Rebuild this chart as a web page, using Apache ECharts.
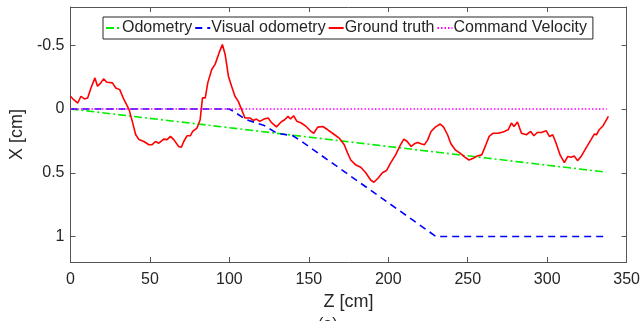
<!DOCTYPE html>
<html>
<head>
<meta charset="utf-8">
<script src="https://cdn.jsdelivr.net/npm/echarts@6/dist/echarts.min.js"></script>
<style>
  html, body { margin: 0; padding: 0; background: #fff; }
  #main { width: 643px; height: 321px; }
</style>
</head>
<body>
<div id="main"></div>
<script>
// odometry (straight drift)
var odoZ = [0, 337];
var odoX = [0, 0.495];

// visual odometry
var visZ = [0, 100, 104, 110, 122, 130, 140, 145, 230, 337];
var visX = [0, 0, 0.03, 0.08, 0.13, 0.19, 0.21, 0.25, 1.0, 1.0];

// command velocity
var cmdZ = [0, 337.5];
var cmdX = [0, 0];

// ground truth
var gtZ = [0, 2, 4.6, 6.6, 8.7, 10.8, 12.9, 15.4, 17, 19.1, 20.8, 22.9, 26.4, 28.5, 31, 33.7, 36.9, 38.9, 41, 43.1,
    46.2, 49.4, 51.4, 53.5, 55.6, 58.7, 60.8, 62.9, 65, 66, 68.1, 69.8, 71.3, 73.3, 75.4, 76.9, 79.6, 81.6, 83.1, 84.8,
    86.4, 88.9, 91, 93.5, 95.6, 97.3, 99.4, 101.4, 103.5, 105.6, 107.7, 109.8, 112.9, 115, 117, 119.1, 121.9, 124.4, 126.4, 129.6,
    132.7, 134.8, 136.9, 138.5, 140.4, 142.5, 145.2, 148.3, 151.4, 153.1, 155.6, 158.8, 161.9, 166, 169.1, 172.3, 174.4, 176.4, 179.6, 182.7,
    185.8, 188.9, 191, 193.5, 196.3, 198.9, 201.4, 204.6, 207.3, 209.8, 211.9, 214.4, 216.4, 218.5, 220.6, 222.7, 224.8, 226.9, 229.6, 232.7,
    234.8, 237.3, 239.4, 242.1, 245.2, 247.7, 250.8, 253.5, 256, 258.8, 261.4, 263.5, 266, 269.1, 272.3, 275.4, 277.5, 279.1, 281.3, 283.8,
    286.9, 289.6, 291.6, 293.8, 296.3, 299.4, 301.4, 303.5, 305.6, 308.1, 310.8, 312.9, 315, 317, 319.1, 321.3, 324.4, 327.5, 329.6, 331,
    332.7, 335.2, 338.5];
var gtX = [-0.1, -0.073, -0.047, -0.1, -0.079, -0.087, -0.165, -0.244, -0.178, -0.205, -0.236, -0.21, -0.205, -0.165, -0.152, -0.073, 0.005, 0.097, 0.2, 0.24,
    0.255, 0.28, 0.28, 0.255, 0.268, 0.236, 0.24, 0.215, 0.24, 0.255, 0.294, 0.3, 0.255, 0.21, 0.21, 0.176, 0.15, 0.084, -0.087, -0.087,
    -0.205, -0.31, -0.35, -0.44, -0.506, -0.43, -0.257, -0.178, -0.1, -0.06, 0.005, 0.07, 0.07, 0.09, 0.079, 0.097, 0.079, 0.07, 0.105, 0.14,
    0.1, 0.084, 0.058, 0.079, 0.053, 0.097, 0.11, 0.137, 0.176, 0.19, 0.142, 0.137, 0.163, 0.2, 0.228, 0.28, 0.346, 0.4, 0.44, 0.457,
    0.5, 0.557, 0.575, 0.543, 0.5, 0.483, 0.425, 0.36, 0.29, 0.236, 0.255, 0.294, 0.273, 0.263, 0.273, 0.281, 0.242, 0.176, 0.142, 0.118,
    0.142, 0.202, 0.273, 0.32, 0.346, 0.373, 0.4, 0.386, 0.368, 0.36, 0.281, 0.215, 0.19, 0.19, 0.18, 0.163, 0.11, 0.137, 0.102, 0.19,
    0.202, 0.176, 0.21, 0.184, 0.184, 0.171, 0.215, 0.202, 0.268, 0.36, 0.42, 0.373, 0.378, 0.368, 0.405, 0.373, 0.307, 0.242, 0.197, 0.202,
    0.163, 0.131, 0.058];

var yTicks = [-0.5, 0, 0.5, 1];

function fnPairs(zs, xs) {
    var out = [];
    for (var i = 0; i < zs.length; i++) {
        out.push([zs[i], xs[i]]);
    }
    return out;
}

var axisColor = '#555555';
var textColor = '#262626';
var font = 'Liberation Sans';

var myChart = echarts.init(document.getElementById('main'));

var option = {
    animation: false,
    grid: { left: 67.7, right: 15, top: 7, bottom: 59 },
    legend: {
        left: 103,
        top: 17,
        padding: [3, 6, 3, 2],
        itemWidth: 15,
        itemHeight: 10,
        itemGap: 2,
        borderColor: '#262626',
        borderWidth: 1,
        backgroundColor: '#fff',
        itemStyle: { opacity: 0 },
        textStyle: { fontFamily: font, fontSize: 16, color: textColor, padding: [0, 0, 0, -4] },
        data: ['Odometry', 'Visual odometry', 'Ground truth', 'Command Velocity']
    },
    xAxis: [
        {
            type: 'value', min: 0, max: 350, interval: 50,
            name: 'Z [cm]', nameLocation: 'middle', nameGap: 31,
            nameTextStyle: { fontFamily: font, fontSize: 18, color: textColor },
            axisLine: { onZero: false, lineStyle: { color: axisColor } },
            axisTick: { inside: true, length: 5, lineStyle: { color: axisColor } },
            axisLabel: { fontFamily: font, fontSize: 16, color: textColor, margin: 10 },
            splitLine: { show: false }
        },
        {
            type: 'value', min: 0, max: 350, interval: 50, position: 'top',
            axisLine: { show: true, onZero: false, lineStyle: { color: axisColor } },
            axisTick: { inside: true, length: 5, lineStyle: { color: axisColor } },
            axisLabel: { show: false },
            splitLine: { show: false }
        }
    ],
    yAxis: [
        {
            type: 'value', min: -0.8, max: 1.2, inverse: true,
            name: 'X [cm]', nameLocation: 'middle', nameGap: 42,
            nameTextStyle: { fontFamily: font, fontSize: 18, color: textColor },
            axisLine: { show: true, onZero: false, lineStyle: { color: axisColor } },
            axisTick: { inside: true, length: 5, customValues: yTicks, lineStyle: { color: axisColor } },
            axisLabel: { fontFamily: font, fontSize: 16, color: textColor, margin: 6, customValues: yTicks },
            splitLine: { show: false }
        },
        {
            type: 'value', min: -0.8, max: 1.2, inverse: true, position: 'right',
            axisLine: { show: true, onZero: false, lineStyle: { color: axisColor } },
            axisTick: { inside: true, length: 5, customValues: yTicks, lineStyle: { color: axisColor } },
            axisLabel: { show: false, customValues: yTicks },
            splitLine: { show: false }
        }
    ],
    graphic: [
        { type: 'text', left: 318, top: 317, style: { text: '(a)', fontFamily: font, fontSize: 16, fill: textColor } }
    ],
    series: [
        {
            name: 'Odometry', type: 'line', symbol: 'none',
            lineStyle: { color: '#00ee00', width: 1.6, type: [8, 3, 2, 3] },
            itemStyle: { color: '#00ee00' },
            data: fnPairs(odoZ, odoX)
        },
        {
            name: 'Visual odometry', type: 'line', symbol: 'none',
            lineStyle: { color: '#0000ff', width: 1.6, type: [7, 5] },
            itemStyle: { color: '#0000ff' },
            data: fnPairs(visZ, visX)
        },
        {
            name: 'Ground truth', type: 'line', symbol: 'none',
            lineStyle: { color: '#ff0000', width: 1.6 },
            itemStyle: { color: '#ff0000' },
            data: fnPairs(gtZ, gtX)
        },
        {
            name: 'Command Velocity', type: 'line', symbol: 'none',
            lineStyle: { color: '#ff00ff', width: 1.6, type: [1.5, 2] },
            itemStyle: { color: '#ff00ff' },
            data: fnPairs(cmdZ, cmdX)
        }
    ]
};
myChart.setOption(option);
</script>
</body>
</html>
